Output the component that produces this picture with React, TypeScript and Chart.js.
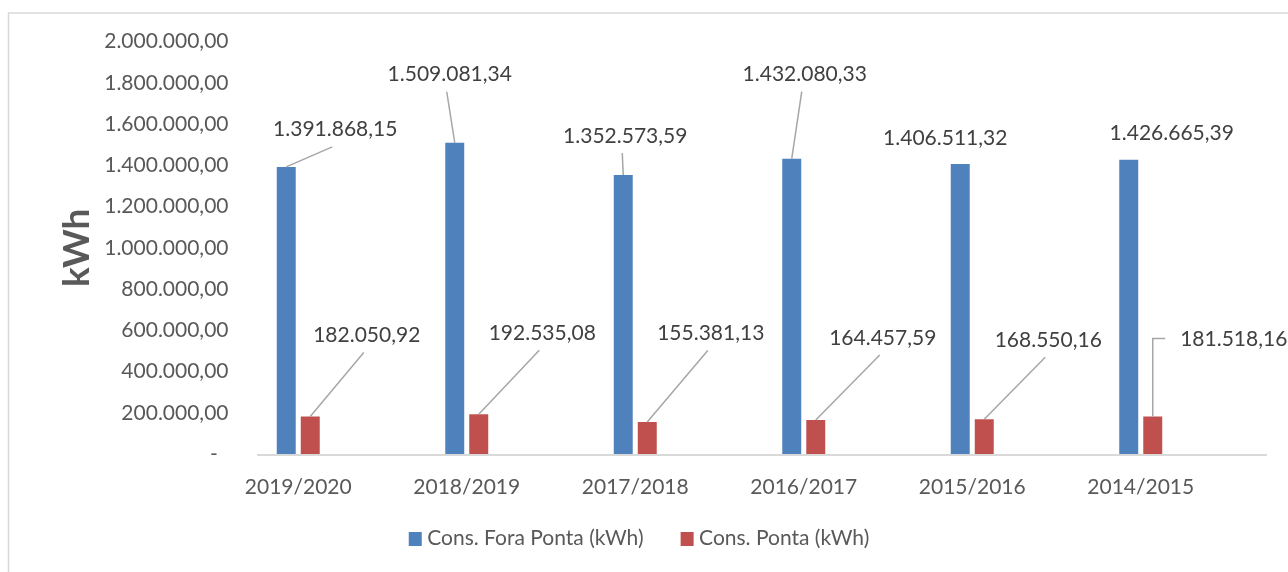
import React, { useEffect, useRef } from "react";
import { Chart, registerables } from "chart.js";

Chart.register(...registerables);

// ---------- data ----------
const categories = ["2019/2020", "2018/2019", "2017/2018", "2016/2017", "2015/2016", "2014/2015"];
const foraPonta = [1391868.15, 1509081.34, 1352573.59, 1432080.33, 1406511.32, 1426665.39];
const ponta = [182050.92, 192535.08, 155381.13, 164457.59, 168550.16, 181518.16];
const seriesNames = ["Cons. Fora Ponta (kWh)", "Cons. Ponta (kWh)"];
const yMin = 0;
const yMax = 2000000;
const yStep = 200000;
const axisTitle = "kWh";

// ---------- label placement (offset of label centre from bar top, px) ----------
type Placement = { dx: number; dy: number; leader: "line" | "elbow" | "none" };
const foraLabelPlacement: Placement[] = [
  { dx: 49, dy: -38, leader: "line" },
  { dx: -5, dy: -69, leader: "line" },
  { dx: 2, dy: -40, leader: "line" },
  { dx: 13, dy: -85, leader: "line" },
  { dx: -15, dy: -26, leader: "none" },
  { dx: 43, dy: -27, leader: "none" },
];
const pontaLabelPlacement: Placement[] = [
  { dx: 56.5, dy: -82, leader: "line" },
  { dx: 63.5, dy: -82, leader: "line" },
  { dx: 63.5, dy: -89.5, leader: "line" },
  { dx: 67, dy: -83, leader: "line" },
  { dx: 64, dy: -80, leader: "line" },
  { dx: 81, dy: -78, leader: "elbow" },
];

const COLORS = ["#4F81BD", "#C0504D"];
const FONT = "Lato, 'Open Sans', sans-serif";
const FS = 21;

function fmt(v: number): string {
  const fixed = Math.abs(v).toFixed(2);
  const [intPart, dec] = fixed.split(".");
  const withDots = intPart.replace(/\B(?=(\d{3})+(?!\d))/g, ".");
  return (v < 0 ? "-" : "") + withDots + "," + dec;
}

function makeSwatch(color: string): HTMLCanvasElement {
  const c = document.createElement("canvas");
  c.width = 26;
  c.height = 14;
  const g = c.getContext("2d")!;
  g.fillStyle = color;
  g.fillRect(9, 0, 13, 14);
  return c;
}

const noLabelClip = (s: any) => {
  s._computeLabelArea = () => undefined;
};

const framePlugin = {
  id: "frame",
  beforeDraw(chart: any) {
    const ctx = chart.ctx;
    ctx.save();
    ctx.strokeStyle = "#d9d9d9";
    ctx.lineWidth = 1.5;
    ctx.beginPath();
    ctx.moveTo(8.5, chart.height);
    ctx.lineTo(8.5, 13);
    ctx.lineTo(chart.width, 13);
    ctx.stroke();
    ctx.restore();
  },
};

const baselinePlugin = {
  id: "baseline",
  beforeDatasetsDraw(chart: any) {
    const { ctx, chartArea } = chart;
    const y = chart.scales.y.getPixelForValue(0) + 1;
    ctx.save();
    ctx.strokeStyle = "#d9d9d9";
    ctx.lineWidth = 2;
    ctx.beginPath();
    ctx.moveTo(chartArea.left + 43, y);
    ctx.lineTo(chartArea.right + 42, y);
    ctx.stroke();
    ctx.restore();
  },
};

const dataLabelPlugin = {
  id: "dataLabels",
  afterDatasetsDraw(chart: any) {
    const ctx = chart.ctx;
    const placements = [foraLabelPlacement, pontaLabelPlacement];
    ctx.save();
    ctx.font = `${FS}px ${FONT}`;
    ctx.fillStyle = "#404040";
    ctx.textAlign = "center";
    ctx.textBaseline = "alphabetic";
    chart.data.datasets.forEach((ds: any, di: number) => {
      const meta = chart.getDatasetMeta(di);
      meta.data.forEach((bar: any, i: number) => {
        const p = placements[di][i];
        const text = fmt(ds.data[i]);
        const cx = bar.x + p.dx;
        const cy = bar.y + p.dy;
        ctx.strokeStyle = "#a6a6a6";
        ctx.lineWidth = 1.5;
        if (p.leader === "line") {
          ctx.beginPath();
          ctx.moveTo(cx - 3, cy + 18);
          ctx.lineTo(bar.x, bar.y);
          ctx.stroke();
        } else if (p.leader === "elbow") {
          const w = ctx.measureText(text).width;
          ctx.beginPath();
          ctx.moveTo(cx - w / 2 - 15, cy);
          ctx.lineTo(bar.x, cy);
          ctx.lineTo(bar.x, bar.y);
          ctx.stroke();
        }
        ctx.fillText(text, cx, cy + 0.36 * FS);
      });
    });
    ctx.restore();
  },
};

export default function App() {
  const canvasRef = useRef<HTMLCanvasElement | null>(null);

  useEffect(() => {
    if (!canvasRef.current) return;
    const swatches = COLORS.map(makeSwatch);
    const chart = new Chart(canvasRef.current, {
      type: "bar",
      data: {
        labels: categories,
        datasets: [
          { label: seriesNames[0], data: foraPonta, backgroundColor: COLORS[0], categoryPercentage: 0.285, barPercentage: 0.79 },
          { label: seriesNames[1], data: ponta, backgroundColor: COLORS[1], categoryPercentage: 0.285, barPercentage: 0.79 },
        ],
      },
      options: {
        animation: false,
        responsive: true,
        maintainAspectRatio: false,
        layout: { padding: { left: 53, right: 63, top: 41.5, bottom: 13 } },
        font: { family: FONT },
        plugins: {
          tooltip: { enabled: false },
          legend: {
            position: "bottom",
            labels: {
              font: { family: FONT, size: FS },
              color: "#595959",
              usePointStyle: true,
              boxWidth: 8,
              boxHeight: 13,
              padding: 37,
              generateLabels: (c: any) => {
                const items = (Chart.defaults.plugins.legend.labels as any).generateLabels(c);
                return items.map((it: any) => ({ ...it, pointStyle: swatches[it.datasetIndex], lineWidth: 0 }));
              },
            },
          },
        },
        scales: {
          x: {
            grid: { display: false },
            border: { display: false },
            ticks: { color: "#595959", font: { family: FONT, size: FS }, padding: 13, maxRotation: 0, autoSkip: false },
            afterFit: (s: any) => { s.height = 37; noLabelClip(s); },
          },
          y: {
            min: yMin,
            max: yMax,
            grid: { display: false },
            border: { display: false },
            ticks: {
              stepSize: yStep,
              color: "#595959",
              font: { family: FONT, size: FS },
              padding: -22.5,
              callback: (v: any) => (Number(v) === 0 ? "-  " : fmt(Number(v))),
            },
            title: {
              display: true,
              text: axisTitle,
              color: "#595959",
              font: { family: FONT, size: 37, weight: "bold" },
              padding: { top: 1.8, bottom: 4 },
            },
            afterFit: (s: any) => { s.width = 161; noLabelClip(s); },
          },
        },
      } as any,
      plugins: [framePlugin, baselinePlugin, dataLabelPlugin],
    });
    return () => chart.destroy();
  }, []);

  return (
    <div style={{ position: "fixed", left: 0, top: 0, width: 1288, height: 572, background: "#fff" }}>
      <canvas ref={canvasRef} />
    </div>
  );
}
